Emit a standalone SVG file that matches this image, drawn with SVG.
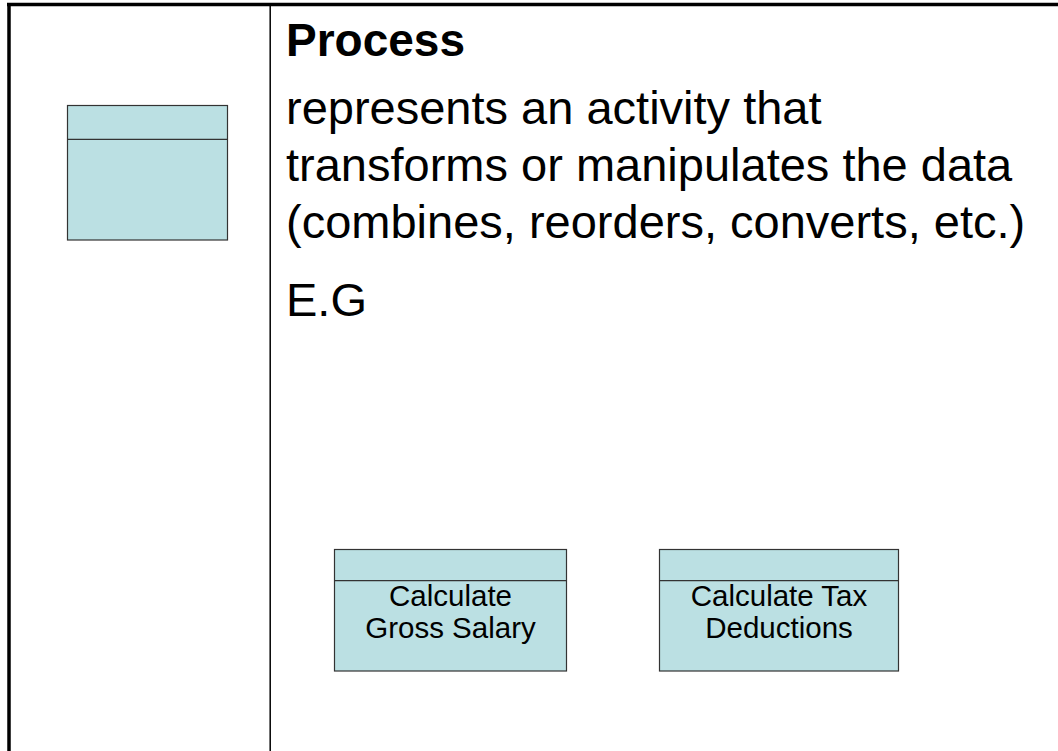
<svg xmlns="http://www.w3.org/2000/svg" width="1058" height="751" viewBox="0 0 1058 751">
<style>
.box{fill:#BBE0E3;stroke:#333333;stroke-width:1.2}
.div{stroke:#333333;stroke-width:1.2}
.t{font-family:"Liberation Sans",Arial,sans-serif;fill:#000}
.big{font-size:47px}
.title{font-size:46px;font-weight:bold}
.lbl{font-size:29.5px;text-anchor:middle}
</style>
<rect width="1058" height="751" fill="#ffffff"/>
<g id="frame">
<line x1="9" y1="3" x2="9" y2="751" stroke="#000" stroke-width="3.5"/>
<line x1="7" y1="4.5" x2="1058" y2="4.5" stroke="#000" stroke-width="3.5"/>
<line x1="270.2" y1="4" x2="270.2" y2="751" stroke="#000" stroke-width="1.5"/>
</g>
<g id="symbol">
<rect class="box" x="67.5" y="105.5" width="160" height="134.5"/>
<line class="div" x1="67.5" y1="139.3" x2="227.5" y2="139.3"/>
</g>
<g id="text">
<text class="t title" x="286" y="56">Process</text>
<text class="t big" x="286" y="124">represents an activity that</text>
<text class="t big" x="286" y="181">transforms or manipulates the data</text>
<text class="t big" x="286" y="238">(combines, reorders, converts, etc.)</text>
<text class="t big" x="286" y="316">E.G</text>
</g>
<g id="node-gross">
<rect class="box" x="334.5" y="549.5" width="232" height="121.5"/>
<line class="div" x1="334.5" y1="580.7" x2="566.5" y2="580.7"/>
<text class="t lbl" x="450.5" y="605.5">Calculate</text>
<text class="t lbl" x="450.5" y="638">Gross Salary</text>
</g>
<g id="node-tax">
<rect class="box" x="659.5" y="549.5" width="239" height="121.5"/>
<line class="div" x1="659.5" y1="580.7" x2="898.5" y2="580.7"/>
<text class="t lbl" x="779" y="605.5">Calculate Tax</text>
<text class="t lbl" x="779" y="638">Deductions</text>
</g>
<g id="connectors"></g>
</svg>
